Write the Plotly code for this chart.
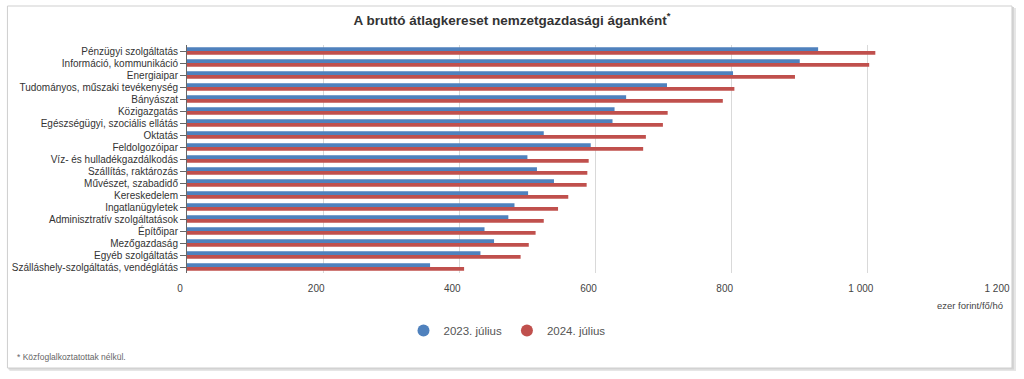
import plotly.graph_objects as go

categories = [
    "Pénzügyi szolgáltatás",
    "Információ, kommunikáció",
    "Energiaipar",
    "Tudományos, műszaki tevékenység",
    "Bányászat",
    "Közigazgatás",
    "Egészségügyi, szociális ellátás",
    "Oktatás",
    "Feldolgozóipar",
    "Víz- és hulladékgazdálkodás",
    "Szállítás, raktározás",
    "Művészet, szabadidő",
    "Kereskedelem",
    "Ingatlanügyletek",
    "Adminisztratív szolgáltatások",
    "Építőipar",
    "Mezőgazdaság",
    "Egyéb szolgáltatás",
    "Szálláshely-szolgáltatás, vendéglátás",
]
values_2023 = [927, 900, 802, 705, 645, 628, 625, 524, 593, 500, 514, 539, 501, 481, 472, 437, 451, 431, 357]
values_2024 = [1011, 1002, 893, 804, 787, 706, 699, 674, 670, 590, 588, 587, 560, 545, 524, 512, 502, 490, 407]
series_names = ["2023. július", "2024. július"]
colors = ["#4F81BD", "#C0504D"]

W, H = 1024, 379
L, R, T, B = 185, 20, 45, 106
pw, ph = W - L - R, H - T - B

def px_x(x):
    return (x - L) / pw

def px_y(y):
    return (H - B - y) / ph

fig = go.Figure()
for name, vals, col in zip(series_names, [values_2023, values_2024], colors):
    fig.add_trace(go.Bar(
        y=categories, x=vals, orientation="h", name=name,
        marker=dict(color=col, line=dict(width=0)),
        showlegend=False,
    ))
for name, col in zip(series_names, colors):
    fig.add_trace(go.Scatter(
        x=[None], y=[None], mode="markers", name=name,
        marker=dict(symbol="circle", size=11, color=col),
        showlegend=True,
    ))

shapes = [
    dict(type="rect", xref="paper", yref="paper",
         x0=px_x(7), x1=px_x(1016), y0=px_y(371), y1=px_y(8),
         fillcolor="#e6e6e6", line=dict(width=0), layer="below"),
    dict(type="rect", xref="paper", yref="paper",
         x0=px_x(6), x1=px_x(1014), y0=px_y(369.5), y1=px_y(7),
         fillcolor="#d4d4d4", line=dict(width=0), layer="below"),
    dict(type="rect", xref="paper", yref="paper",
         x0=px_x(5), x1=px_x(1012), y0=px_y(368), y1=px_y(6),
         fillcolor="white", line=dict(color="#cfcfcf", width=1), layer="below"),
]

annotations = [
    dict(text="ezer forint/fő/hó", xref="paper", yref="paper",
         x=px_x(1005), y=px_y(305), xanchor="right", yanchor="middle",
         showarrow=False, font=dict(size=9.5, color="#444", family="Liberation Sans, Arial")),
    dict(text="* Közfoglalkoztatottak nélkül.", xref="paper", yref="paper",
         x=px_x(13), y=px_y(357), xanchor="left", yanchor="middle",
         showarrow=False, font=dict(size=8.5, color="#666", family="Liberation Sans, Arial")),
]

fig.update_layout(
    width=W, height=H,
    margin=dict(l=L, r=R, t=T, b=B, pad=0),
    paper_bgcolor="white",
    plot_bgcolor="rgba(0,0,0,0)",
    barmode="group",
    bargap=0.36,
    bargroupgap=0.0,
    separators=", ",
    font=dict(family="Liberation Sans, Arial", color="#333"),
    title=dict(
        text="A bruttó átlagkereset nemzetgazdasági áganként<sup>*</sup>",
        x=512 / W, xref="container", xanchor="center",
        y=1 - 20 / H, yref="container", yanchor="middle",
        font=dict(size=13.5, color="#333", family="Liberation Sans, Arial", weight="bold"),
    ),
    xaxis=dict(
        range=[0, 1200], dtick=200, tick0=0, tickformat=",d",
        showgrid=True, gridcolor="#d9d9d9", gridwidth=1,
        zeroline=False, showline=False, ticks="",
        tickfont=dict(size=10, color="#444"),
        ticklabelshift=-7, ticklabelstandoff=8,
        fixedrange=True,
    ),
    yaxis=dict(
        autorange="reversed",
        showline=True, linecolor="#666", linewidth=1,
        ticks="outside", ticklen=6, tickcolor="#666",
        tickfont=dict(size=10, color="#333"),
        showgrid=False, zeroline=False,
        fixedrange=True,
    ),
    legend=dict(
        orientation="h", x=507 / W, xref="container", xanchor="center",
        y=1 - 330.5 / H, yref="container", yanchor="middle",
        font=dict(size=11.5, color="#555"),
        itemsizing="constant",
        bgcolor="rgba(0,0,0,0)",
        itemwidth=30,
    ),
    shapes=shapes,
    annotations=annotations,
)

fig.write_html(
    "out.html",
    config={"displayModeBar": False},
    post_script="document.body.style.margin='0';document.body.style.overflow='hidden';",
)
